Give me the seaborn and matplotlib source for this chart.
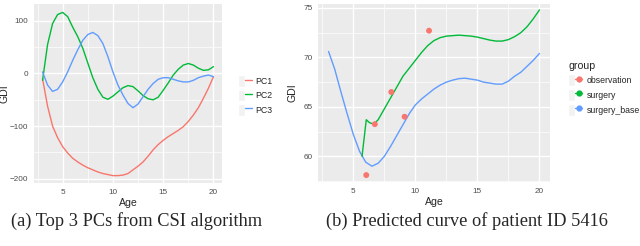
import numpy as np
import pandas as pd
import matplotlib
matplotlib.use("Agg")
import matplotlib.pyplot as plt
import seaborn as sns
from matplotlib.lines import Line2D
from matplotlib.patches import Patch
from matplotlib.legend_handler import HandlerTuple
from matplotlib.ticker import MultipleLocator

# ---- data ----
pc_age = [3, 3.5, 4, 4.5, 5, 5.5, 6, 6.5, 7, 7.5, 8, 8.5, 9, 9.5, 10, 10.5, 11, 11.5,
          12, 12.5, 13, 13.5, 14, 14.5, 15, 15.5, 16, 16.5, 17, 17.5, 18, 18.5, 19, 19.5, 20]
pc1 = [-10, -62, -100, -122, -139, -151, -161, -168, -174, -179, -183, -187, -190, -192,
       -194, -194, -193, -190, -183, -176, -168, -157, -145, -135, -127, -120, -114, -108,
       -101, -91, -79, -65, -47, -28, -6]
pc2 = [-13, 55, 95, 112, 116, 108, 88, 70, 48, 20, -8, -30, -45, -49, -43, -35, -27, -23,
       -25, -33, -42, -48, -50, -45, -32, -18, -3, 8, 16, 19, 16, 10, 6, 7, 13]
pc3 = [3, -22, -34, -30, -16, 3, 25, 45, 63, 74, 78, 72, 57, 32, 3, -22, -41, -57,
       -65, -58, -44, -30, -19, -11, -8, -8, -11, -14, -16, -16, -13, -8, -5, -3, -6]

base_age = pc_age
surgery_base = [70.6, 68.8, 66.5, 64.3, 62.2, 60.5, 59.4, 59.0, 59.3, 60.0, 61.0, 62.1,
                63.2, 64.3, 65.2, 65.8, 66.3, 66.8, 67.2, 67.5, 67.7, 67.85, 67.9, 67.8,
                67.7, 67.5, 67.4, 67.3, 67.3, 67.6, 68.1, 68.5, 69.1, 69.7, 70.4]
surg_age = [5.7, 6.04, 6.3, 6.65, 7, 7.5, 8, 8.5, 9, 9.5, 10, 10.5, 11, 11.5, 12, 12.5,
            13, 13.5, 14, 14.5, 15, 15.5, 16, 16.5, 17, 17.5, 18, 18.5, 19, 19.5, 20]
surgery = [60.0, 63.7, 63.4, 63.25, 63.7, 64.8, 65.9, 67.0, 68.1, 68.9, 69.7, 70.5, 71.2,
           71.7, 72.0, 72.15, 72.2, 72.25, 72.2, 72.15, 72.05, 71.9, 71.75, 71.65, 71.65,
           71.8, 72.1, 72.5, 73.1, 73.9, 74.8]
obs_age = [6.04, 6.73, 8.06, 9.13, 11.1]
obs_gdi = [58.1, 63.25, 66.5, 64.0, 72.7]

red, green, blue = "#F8766D", "#00BA38", "#619CFF"

sns.set_theme(style="darkgrid", rc={
    "axes.facecolor": "#EBEBEB", "grid.color": "white",
    "xtick.color": "#333333", "ytick.color": "#333333",
    "xtick.labelcolor": "#4D4D4D", "ytick.labelcolor": "#4D4D4D",
})
plt.rcParams["font.family"] = ["Liberation Sans", "DejaVu Sans"]

pc_df = pd.DataFrame({
    "Age": pc_age * 3,
    "GDI": pc1 + pc2 + pc3,
    "pc": ["PC1"] * len(pc_age) + ["PC2"] * len(pc_age) + ["PC3"] * len(pc_age),
})
curve_df = pd.DataFrame({
    "Age": base_age + surg_age,
    "GDI": surgery_base + surgery,
    "group": ["surgery_base"] * len(base_age) + ["surgery"] * len(surg_age),
})
obs_df = pd.DataFrame({"Age": obs_age, "GDI": obs_gdi})

fig = plt.figure(figsize=(6.4, 2.46), dpi=100)
ax1 = fig.add_axes([34 / 640, 1 - 183 / 246, 188 / 640, 179 / 246])
ax2 = fig.add_axes([318 / 640, 1 - 182 / 246, 232 / 640, 178 / 246])


def style_axes(ax, xmin, xmax, ymin, ymax, ymaj, ylab_x):
    ax.set_xlim(xmin, xmax)
    ax.set_ylim(ymin, ymax)
    ax.xaxis.set_major_locator(MultipleLocator(5))
    ax.xaxis.set_minor_locator(MultipleLocator(2.5))
    ax.yaxis.set_major_locator(MultipleLocator(ymaj))
    ax.yaxis.set_minor_locator(MultipleLocator(ymaj / 2))
    ax.grid(which="major", color="white", lw=1.0)
    ax.grid(which="minor", color="white", lw=0.5)
    ax.tick_params(which="major", length=2.5, width=0.8, pad=1.5, labelsize=5.9)
    ax.tick_params(which="minor", length=0)
    for s in ax.spines.values():
        s.set_visible(False)
    ax.set_xlabel("Age", fontsize=7.6, labelpad=2)
    ax.set_ylabel("GDI", fontsize=7.6)
    ax.yaxis.set_label_coords(ylab_x, 0.5)


sns.lineplot(data=pc_df, x="Age", y="GDI", hue="pc", ax=ax1,
             palette=[red, green, blue], lw=1.0, legend=False)
style_axes(ax1, 2.15, 20.85, -208, 132, 100, -0.13)

sns.lineplot(data=curve_df, x="Age", y="GDI", hue="group", ax=ax2,
             palette={"surgery": green, "surgery_base": blue}, lw=1.0,
             legend=False, sort=False)
sns.scatterplot(data=obs_df, x="Age", y="GDI", ax=ax2, color=red, s=18,
                edgecolor="none", zorder=5)
style_axes(ax2, 2.15, 20.85, 57.4, 75.4, 5, -0.09)


def key(c, marker=None):
    return (Patch(facecolor="#F2F2F2", edgecolor="white"),
            Line2D([], [], color=c, lw=1.0, marker=marker, markersize=3.5))


leg1 = fig.legend([key(red), key(green), key(blue)], ["PC1", "PC2", "PC3"],
                  handler_map={tuple: HandlerTuple(ndivide=None, pad=0)},
                  loc="upper left", bbox_to_anchor=(232 / 640, 1 - 69 / 246),
                  frameon=False, fontsize=6.3, handlelength=1.6, handleheight=1.7,
                  handletextpad=0.3, labelspacing=0.3, borderpad=0.2)

leg2 = fig.legend([key(red, "o"), key(green, "o"), key(blue, "o")],
                  ["observation", "surgery", "surgery_base"], title="group",
                  handler_map={tuple: HandlerTuple(ndivide=None, pad=0)},
                  loc="upper left", bbox_to_anchor=(562 / 640, 1 - 55 / 246),
                  frameon=False, fontsize=6.3, title_fontsize=7.6,
                  handlelength=1.6, handleheight=1.7, handletextpad=0.5,
                  labelspacing=0.35, borderpad=0.2)
leg2._legend_box.align = "left"

fig.text(137 / 640, 1 - 221 / 246, "(a) Top 3 PCs from CSI algorithm",
         family="Liberation Serif", fontsize=13.2, ha="center", va="center")
fig.text(467 / 640, 1 - 221 / 246, "(b) Predicted curve of patient ID 5416",
         family="Liberation Serif", fontsize=13.2, ha="center", va="center")

fig.savefig("out.png", dpi=100, facecolor="white")
